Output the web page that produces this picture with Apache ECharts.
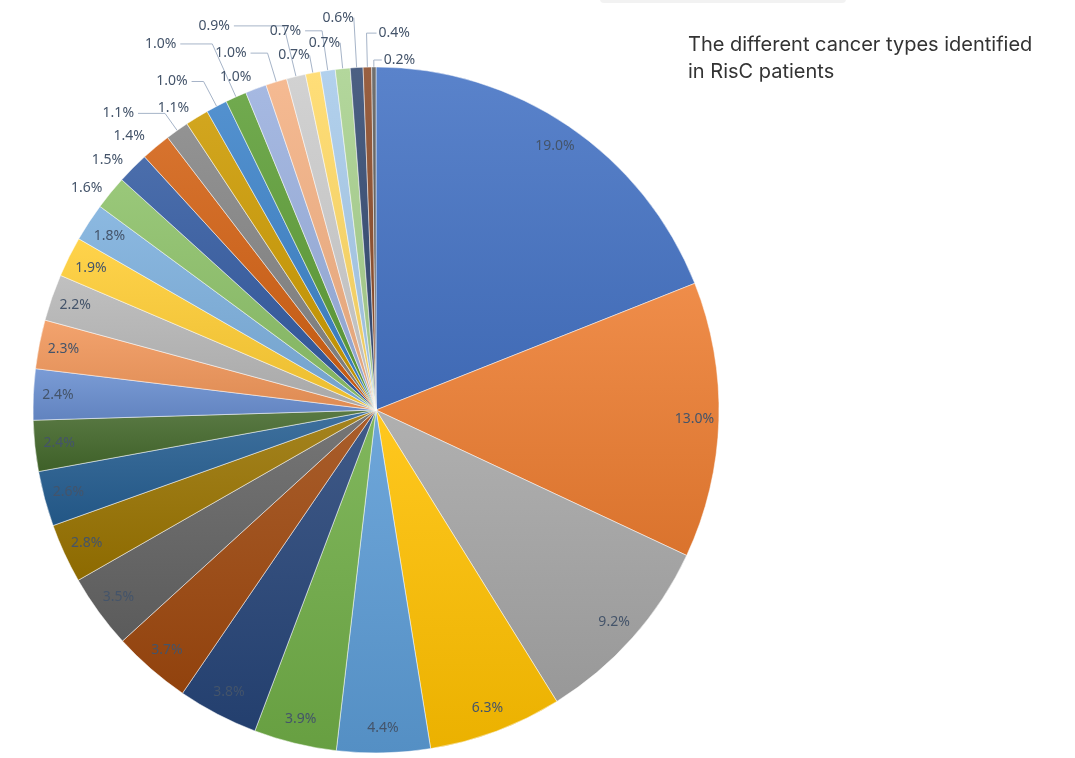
<!DOCTYPE html>
<html><head><meta charset="utf-8">
<script src="https://cdn.jsdelivr.net/npm/echarts@6/dist/echarts.min.js"></script>
<style>html,body{margin:0;padding:0;background:#fff}#c{width:1075px;height:758px}</style>
</head><body><div id="c"></div>
<script>
// Shares (%) of each cancer type, clockwise from 12 o'clock
const values = [19.0, 13.0, 9.2, 6.3, 4.4, 3.9, 3.8, 3.7, 3.5, 2.8, 2.6, 2.4, 2.4, 2.3, 2.2, 1.9, 1.8, 1.6, 1.5, 1.4, 1.1, 1.1, 1.0, 1.0, 1.0, 1.0, 0.9, 0.7, 0.7, 0.7, 0.6, 0.4, 0.2];
const colors = ['#4472C4','#ED7D31','#A5A5A5','#FFC000','#5B9BD5','#70AD47','#264478','#9E480E','#636363','#997300','#255E91','#43682B','#698ED0','#F1975A','#B7B7B7','#FFCD33','#7CAFDD','#8CC168','#335AA1','#D26012','#848484','#CC9A00','#3C82C8','#5E9E37','#9AB0DE','#F4B183','#CCCCCC','#FFD966','#A8CBEA','#A9D18E','#344A72','#8A4A28','#5C5C5C'];
const titleLines = ['The different cancer types identified', 'in RisC patients'];

// Outside-label styling for the small slices (index >= 17): [length, length2, distance, showLine, side]
const outsideLabelStyle = {
  17: [8, 0, 2, false, 'auto'],
  18: [11, 0, 2, false, 'auto'],
  19: [14, 0, 2, false, 'auto'],
  20: [21, 27, 4, true, 'auto'],
  21: [11, 0, 2, false, 'auto'],
  22: [28, 12, 4, true, 'auto'],
  23: [58, 32, 4, true, 'auto'],
  24: [13, 0, 0, false, 'auto'],
  25: [30, 17, 4, true, 'auto'],
  26: [52, 50, 4, true, 'auto'],
  27: [18, 0, 0, true, 'auto'],
  28: [40, 17, 4, true, 'auto'],
  29: [26, 0, 0, true, 'auto'],
  30: [50, 0, 0, true, 'auto'],
  31: [34, 10, 2, true, 'right'],
  32: [7, 8, 2, true, 'right']
};

function shade(hex, f) {
  const n = parseInt(hex.slice(1), 16);
  let r = n >> 16, g = (n >> 8) & 255, b = n & 255;
  if (f > 0) { r += (255 - r) * f; g += (255 - g) * f; b += (255 - b) * f; }
  else { r *= 1 + f; g *= 1 + f; b *= 1 + f; }
  return 'rgb(' + Math.round(r) + ',' + Math.round(g) + ',' + Math.round(b) + ')';
}
const fmt = p => p.value.toFixed(1) + '%';
const labelColor = '#44546A';
const font = 'Noto Sans';

const mainData = values.map((v, i) => {
  const s = outsideLabelStyle[i];
  const item = {
    name: 'Type ' + (i + 1),
    value: v,
    itemStyle: {
      color: new echarts.graphic.LinearGradient(0, 0, 0, 1, [
        { offset: 0, color: shade(colors[i], 0.12) },
        { offset: 1, color: shade(colors[i], -0.08) }
      ])
    },
    label: { show: !!s },
    labelLine: { show: false }
  };
  if (s) {
    item.label.distanceToLabelLine = s[2];
    item.labelLine = { show: s[3], length: s[0], length2: s[1] };
  }
  return item;
});
const ringData = values.map((v, i) => ({
  name: 'Type ' + (i + 1), value: v,
  itemStyle: { color: 'rgba(0,0,0,0)' },
  label: { show: !outsideLabelStyle[i] }
}));

const chart = echarts.init(document.getElementById('c'), null, { renderer: 'canvas' });
chart.setOption({
  backgroundColor: '#fff',
  animation: false,
  title: {
    text: titleLines.join('\n'),
    left: 688, top: 31, padding: 0,
    textStyle: { fontFamily: 'Inter', fontSize: 20, fontWeight: 'normal', color: '#333', lineHeight: 27 }
  },
  graphic: [{
    type: 'rect', left: 600, top: -6, z: 0,
    shape: { width: 246, height: 9, r: 4 },
    style: { fill: '#F2F2F2' }
  }],
  series: [{
    type: 'pie',
    center: [376, 410],
    radius: [0, 343],
    startAngle: 90,
    clockwise: true,
    avoidLabelOverlap: false,
    emphasis: { disabled: true },
    itemStyle: { borderColor: 'rgba(255,255,255,0.7)', borderWidth: 0.7 },
    label: { position: 'outside', formatter: fmt, color: labelColor, fontFamily: font, fontSize: 14 },
    labelLine: { lineStyle: { color: '#A6B4C8', width: 1 }, minTurnAngle: 0 },
    labelLayout: function (params) {
      const s = outsideLabelStyle[params.dataIndex];
      if (!s || s[4] !== 'right' || !params.labelLinePoints) return {};
      const p = params.labelLinePoints;
      const turn = p[1];
      const end = [turn[0] + s[1], turn[1]];
      return {
        x: end[0] + s[2], y: end[1],
        align: 'left', verticalAlign: 'middle',
        labelLinePoints: [p[0], turn, end]
      };
    },
    data: mainData
  }, {
    type: 'pie',
    silent: true,
    center: [376, 410],
    radius: [288, 343],
    startAngle: 90,
    clockwise: true,
    avoidLabelOverlap: false,
    emphasis: { disabled: true },
    itemStyle: { borderWidth: 0 },
    label: { position: 'inside', formatter: fmt, color: labelColor, fontFamily: font, fontSize: 14 },
    labelLine: { show: false },
    data: ringData
  }]
});
</script></body></html>
